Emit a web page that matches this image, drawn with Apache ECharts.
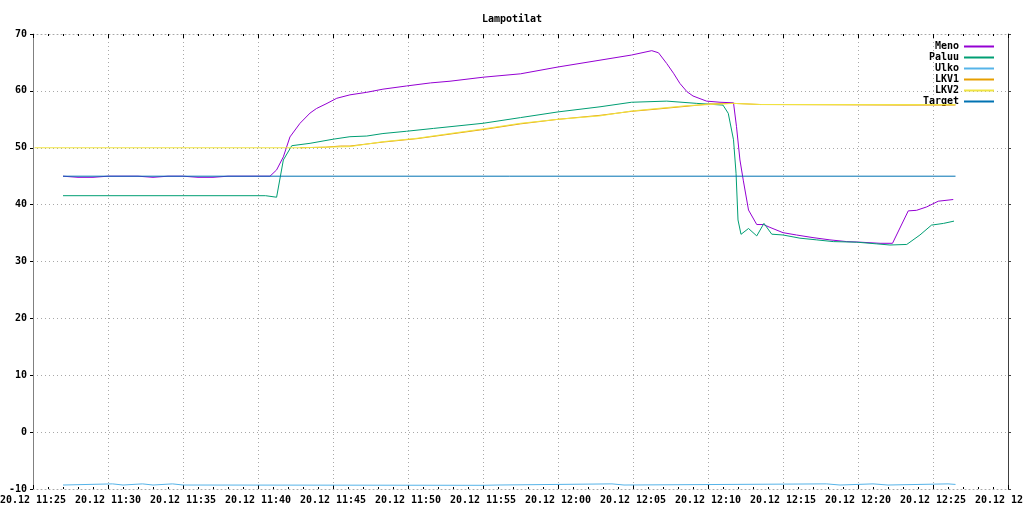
<!DOCTYPE html>
<html><head><meta charset="utf-8">
<script src="https://cdn.jsdelivr.net/npm/echarts@6/dist/echarts.min.js"></script>
<style>html,body{margin:0;padding:0;background:#fff}#c{width:1024px;height:512px}</style>
</head><body><div id="c"></div>
<script>
// minutes after 20.12 11:25
var menoT = [2,3,4,5,6,7,8,9,10,11,12,13,14,15,15.8,16.24,16.69,17.13,17.8,18.47,18.9,19.6,20.25,21.13,22.25,23.33,24.9,26.5,27.8,30,32.5,35,37.8,39.9,41.25,41.7,42.25,42.7,43.13,43.6,44.0,44.9,45.8,46.7,46.9,47.13,47.35,47.7,48.25,48.7,49.13,50.0,50.9,52.0,53.13,54.25,55.13,56.47,57.3,58.35,58.9,59.58,60.35,61.35];
var menoV = [45.0,44.8,44.8,45.0,45.0,45.0,44.8,45.0,45.0,44.8,44.8,45.0,45.0,45.0,45.0,46.1,48.4,51.9,54.3,56.1,56.9,57.8,58.7,59.3,59.75,60.3,60.86,61.4,61.7,62.4,63.0,64.2,65.4,66.3,67.07,66.7,64.8,63.1,61.3,59.85,59.1,58.2,58.0,57.9,53.7,47.85,44.3,39.05,36.5,36.5,36.0,35.07,34.66,34.2,33.8,33.5,33.4,33.2,33.2,38.9,39.0,39.6,40.6,40.9];
var paluuT = [2,15.5,16.24,16.69,17.25,18.47,20.0,21.13,22.25,23.33,24.9,26.7,27.8,30,32.5,35,37.8,39.9,42.25,44.25,46.0,46.35,46.7,46.87,47.0,47.2,47.7,48.25,48.73,49.25,50.0,51.13,52.25,53.35,54.9,56.25,57.13,58.25,59.13,59.9,60.7,61.4];
var paluuV = [41.57,41.57,41.3,47.85,50.36,50.78,51.5,51.94,52.06,52.5,52.9,53.4,53.7,54.3,55.3,56.3,57.2,58.0,58.2,57.8,57.5,56.05,51.4,45.5,37.3,34.78,35.8,34.5,36.7,34.8,34.66,34.1,33.8,33.5,33.4,33.1,32.9,33.0,34.66,36.4,36.7,37.1];
var ulkoT = [2,5.3,6,7.3,8,9.3,10,30,31,38.6,39.4,52.9,53.8,56,57,61,61.5];
var ulkoV = [-9.3,-9.1,-9.3,-9.1,-9.3,-9.1,-9.3,-9.35,-9.3,-9.1,-9.3,-9.1,-9.3,-9.1,-9.3,-9.1,-9.2];
var lkv1T = [17.8,19.5,20.5,21.13,23.33,25.6,27.8,30,32.5,35,37.8,39.9,41.6,43.6,45.13,46.7,48.5,58,61.5];
var lkv1V = [50.0,50.1,50.3,50.3,51.0,51.6,52.4,53.2,54.2,55.0,55.7,56.4,56.8,57.3,57.7,57.8,57.6,57.5,57.5];
var lkv2T = [0.1,17.8,21.13,23.33,25.6,27.8,30,32.5,35,37.8,39.9,41.6,43.6,45.13,46.7,48.5,61.5];
var lkv2V = [50.0,50.0,50.2,51.07,51.66,52.5,53.3,54.3,55.0,55.6,56.46,56.9,57.4,57.6,57.8,57.6,57.6];
var targetT = [2,61.5];
var targetV = [45,45];
var yTicks = [-10,0,10,20,30,40,50,60,70];

var BASE = Date.UTC(2020,11,20,11,25);
function pts(t,v){return t.map(function(m,i){return [BASE+m*60000,v[i]];});}
function pad(n){return (n<10?'0':'')+n;}
var F = 'DejaVu Sans Mono';
var dotted = {color:'#a8a8a8',type:[1,3],width:1};
var names = ['Meno','Paluu','Ulko','LKV1','LKV2','Target'];
var colors = ['#9400d3','#009e73','#56b4e9','#e69f00','#f0e442','#0072b2'];
var datas = [pts(menoT,menoV),pts(paluuT,paluuV),pts(ulkoT,ulkoV),pts(lkv1T,lkv1V),pts(lkv2T,lkv2V),pts(targetT,targetV)];

var chart = echarts.init(document.getElementById('c'),null,{renderer:'canvas'});
chart.setOption({
  animation:false,
  backgroundColor:'#fff',
  title:{text:'Lampotilat',left:'center',top:9,textStyle:{fontFamily:F,fontSize:10,fontWeight:'bold',color:'#000'}},
  legend:{data:names,orient:'vertical',right:25,top:36,align:'right',icon:'rect',itemWidth:30,itemHeight:2,itemGap:0,
    textStyle:{fontFamily:F,fontSize:10,fontWeight:'bold',color:'#000',lineHeight:11,padding:[0,0,0,0]}},
  grid:{left:33,right:16,top:34,bottom:23,containLabel:false,outerBoundsMode:'none'},
  xAxis:[{type:'value',min:BASE,max:BASE+65*60000,interval:300000,
    axisLine:{show:true,onZero:false,lineStyle:dotted},
    axisTick:{show:true,inside:true,length:4,lineStyle:{color:'#000'}},
    minorTick:{show:true,splitNumber:5,length:2,lineStyle:{color:'#000'}},
    splitLine:{show:true,lineStyle:dotted},
    axisLabel:{showMinLabel:true,showMaxLabel:true,margin:6,fontFamily:F,fontSize:10,fontWeight:'bold',color:'#000',
      formatter:function(v){var d=new Date(v);return '20.12 '+pad(d.getUTCHours())+':'+pad(d.getUTCMinutes());}}},
   {type:'value',position:'top',min:BASE,max:BASE+65*60000,interval:300000,
    axisLine:{show:true,onZero:false,lineStyle:dotted},
    axisTick:{show:true,inside:true,length:4,lineStyle:{color:'#000'}},
    minorTick:{show:true,splitNumber:5,length:2,lineStyle:{color:'#000'}},
    splitLine:{show:false},axisLabel:{show:false}}],
  yAxis:[{type:'value',min:yTicks[0],max:yTicks[yTicks.length-1],interval:10,
    axisLine:{show:true,onZero:false,lineStyle:{color:'#808080',width:1}},
    axisTick:{show:true,inside:false,length:3,lineStyle:{color:'#000'}},
    splitLine:{show:true,lineStyle:dotted},
    axisLabel:{margin:6,fontFamily:F,fontSize:10,fontWeight:'bold',color:'#000'}},
   {type:'value',position:'right',min:yTicks[0],max:yTicks[yTicks.length-1],interval:10,
    axisLine:{show:true,onZero:false,lineStyle:{color:'#404040',width:1}},
    axisTick:{show:true,inside:false,length:3,lineStyle:{color:'#404040'}},
    splitLine:{show:false},axisLabel:{show:false}}],
  series:names.map(function(n,i){return {name:n,type:'line',data:datas[i],showSymbol:false,symbol:'none',
    color:colors[i],lineStyle:{width:1,color:colors[i]},z:2+i};})
});
</script></body></html>
